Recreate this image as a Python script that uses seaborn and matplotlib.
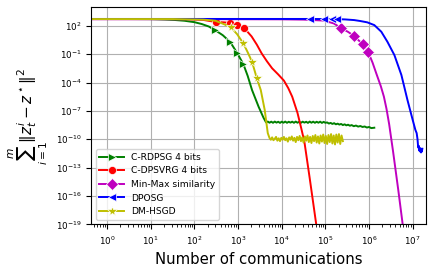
import numpy as np
import seaborn as sns
import matplotlib.pyplot as plt
from matplotlib.ticker import NullLocator

# values, as log10(communications) / log10(error)

# C-RDPSG 4 bits
rdpsg_lx = [-0.4, 0.0, 0.5, 1.0, 1.31, 1.55, 1.77, 2.0, 2.17, 2.33, 2.47, 2.65, 2.82, 2.98, 3.12,
            3.22, 3.32, 3.47, 3.58,
            3.64, 3.68, 3.72, 3.76, 3.80, 3.84, 3.88, 3.92, 3.96, 4.00, 4.04, 4.08, 4.12, 4.16,
            4.20, 4.24, 4.28, 4.32, 4.36, 4.40, 4.44, 4.48, 4.52, 4.56, 4.60, 4.64, 4.68, 4.72,
            4.76, 4.80, 4.84, 4.88, 4.92, 4.96, 5.00, 5.04, 5.08, 5.12, 5.16, 5.20, 5.24, 5.28,
            5.32, 5.36, 5.40, 5.44, 5.48, 5.52, 5.56, 5.60, 5.65, 5.70, 5.75, 5.80, 5.85, 5.90,
            5.95, 6.00, 6.05, 6.12]
rdpsg_ly = [2.71, 2.71, 2.71, 2.70, 2.66, 2.61, 2.53, 2.38, 2.18, 1.92, 1.55, 1.00, 0.28, -0.89, -2.05,
            -3.3, -4.8, -6.56, -7.7,
            -8.21, -8.13, -8.25, -8.14, -8.26, -8.13, -8.24, -8.15, -8.27, -8.14, -8.25, -8.13, -8.26, -8.15,
            -8.24, -8.14, -8.26, -8.13, -8.25, -8.15, -8.26, -8.14, -8.24, -8.15, -8.27, -8.13, -8.25, -8.14,
            -8.26, -8.15, -8.25, -8.14, -8.27, -8.16, -8.26, -8.22, -8.34, -8.27, -8.38, -8.30, -8.42, -8.35,
            -8.45, -8.38, -8.50, -8.42, -8.53, -8.46, -8.57, -8.50, -8.62, -8.55, -8.66, -8.60, -8.70, -8.65,
            -8.76, -8.70, -8.82, -8.78]
rdpsg_marks = [2.47, 2.82, 2.98, 3.12]

# C-DPSVRG 4 bits
dpsvrg_lx = [-0.4, 1.0, 1.8, 2.2, 2.5, 2.68, 2.82, 2.98, 3.14, 3.31, 3.43, 3.54, 3.66, 3.78, 3.92,
             4.05, 4.15, 4.24, 4.36, 4.45, 4.52, 4.64, 4.79, 4.85]
dpsvrg_ly = [2.71, 2.71, 2.70, 2.62, 2.39, 2.36, 2.29, 2.07, 1.76, 0.87, 0.0, -0.92, -1.75, -2.5, -3.15,
             -3.8, -4.6, -5.5, -7.2, -8.9, -10.3, -14.1, -19.0, -21.0]
dpsvrg_marks = [2.5, 2.82, 2.98, 3.14]

# Min-Max similarity
minmax_lx = [-0.4, 3.0, 4.0, 4.5, 4.96, 5.19, 5.36, 5.52, 5.66, 5.85, 5.98, 6.08, 6.17, 6.27, 6.34,
             6.40, 6.46, 6.55, 6.67, 6.77, 6.82]
minmax_ly = [2.69, 2.69, 2.68, 2.65, 2.55, 2.25, 1.76, 1.35, 0.91, 0.06, -0.78, -1.9, -3.1, -4.4, -5.5,
             -6.8, -8.4, -11.3, -15.4, -19.0, -21.0]
minmax_marks = [5.36, 5.66, 5.85, 5.98]

# DPOSG
dposg_lx = [-0.4, 4.0, 4.64, 4.96, 5.14, 5.27, 5.45, 5.66, 5.80, 5.96, 6.12, 6.28, 6.42, 6.58, 6.74,
            6.88, 7.0, 7.06, 7.09, 7.11, 7.12, 7.13, 7.14, 7.15, 7.16, 7.17, 7.18, 7.19, 7.20, 7.21, 7.22]
dposg_ly = [2.72, 2.72, 2.72, 2.71, 2.71, 2.70, 2.67, 2.60, 2.50, 2.36, 2.07, 1.37, 0.31, -1.1, -3.2,
            -5.86, -7.97, -9.0, -9.35, -10.0, -10.6, -10.9, -10.7, -11.2, -10.9, -11.3, -11.0, -11.4,
            -11.1, -11.3, -11.0]
dposg_marks = [4.64, 4.96, 5.14, 5.27]

# DM-HSGD
hsgd_lx = [-0.4, 1.5, 2.2, 2.48, 2.66, 2.83, 2.98, 3.12, 3.22, 3.32, 3.43, 3.52, 3.61, 3.68,
           3.72, 3.75, 3.78, 3.81, 3.84, 3.87, 3.90, 3.93, 3.96, 3.99, 4.02, 4.05, 4.08, 4.11,
           4.14, 4.17, 4.20, 4.23, 4.26, 4.29, 4.32, 4.35, 4.38, 4.41, 4.44, 4.47, 4.50, 4.53,
           4.56, 4.59, 4.62, 4.65, 4.68, 4.71, 4.74, 4.77, 4.80, 4.83, 4.86, 4.89, 4.92, 4.95,
           4.98, 5.01, 5.04, 5.07, 5.10, 5.13, 5.16, 5.19, 5.22, 5.25, 5.28, 5.31, 5.34, 5.37, 5.40]
hsgd_ly = [2.71, 2.71, 2.65, 2.53, 2.2, 1.86, 1.1, 0.14, -0.8, -1.81, -3.56, -4.8, -6.9, -9.35,
           -9.87, -10.05, -9.80, -10.10, -9.95, -9.75, -10.15, -9.90, -10.20, -9.85, -10.05, -9.75, -10.10, -9.90,
           -10.25, -9.80, -10.05, -9.70, -10.15, -9.85, -10.30, -9.75, -10.10, -9.65, -10.20, -9.80, -10.35, -9.70,
           -10.15, -9.60, -10.30, -9.75, -10.40, -9.65, -10.20, -9.55, -10.35, -9.70, -10.45, -9.60, -10.25, -9.50,
           -10.40, -9.65, -10.50, -9.55, -10.30, -9.45, -10.45, -9.60, -10.55, -9.50, -10.35, -9.45, -10.50, -9.60, -10.20]
hsgd_marks = [2.83, 3.12, 3.32, 3.43]

series = [
    ('C-RDPSG 4 bits', rdpsg_lx, rdpsg_ly, rdpsg_marks, 'g', '>'),
    ('C-DPSVRG 4 bits', dpsvrg_lx, dpsvrg_ly, dpsvrg_marks, 'r', 'o'),
    ('Min-Max similarity', minmax_lx, minmax_ly, minmax_marks, 'm', 'D'),
    ('DPOSG', dposg_lx, dposg_ly, dposg_marks, 'b', '<'),
    ('DM-HSGD', hsgd_lx, hsgd_ly, hsgd_marks, 'y', '*'),
]

fig = plt.figure(figsize=(4.32, 2.71), dpi=100)
ax = fig.add_axes([0.211, 0.172, 0.774, 0.801])
ax.set_xscale('log')
ax.set_yscale('log')

for label, lx, ly, marks, color, marker in series:
    lx = np.array(lx)
    mask = list(np.isin(lx, marks))
    sns.lineplot(x=10 ** lx, y=10 ** np.array(ly), ax=ax, color=color, marker=marker,
                 markevery=mask, markersize=5.8 if marker != '*' else 7.5, linewidth=1.4,
                 markeredgewidth=0.5, label=label, estimator=None, sort=False)

ax.set_xlim(10 ** -0.365, 10 ** 7.293)
ax.set_ylim(1e-19, 10 ** 3.95)
ax.set_yticks([10.0 ** k for k in range(-19, 3, 3)])
ax.yaxis.set_minor_locator(NullLocator())
ax.grid(True, which='major', color='#b0b0b0', linewidth=0.8)
ax.tick_params(labelsize=6.3)

ax.set_xlabel('Number of communications', fontsize=10.7)
ax.set_ylabel(r'$\sum_{i=1}^{m}\|z_t^i - z^\star\|^2$', fontsize=11)
ax.legend(loc='lower left', fontsize=6.6, handlelength=2.7)

fig.savefig('out.png', dpi=100)
